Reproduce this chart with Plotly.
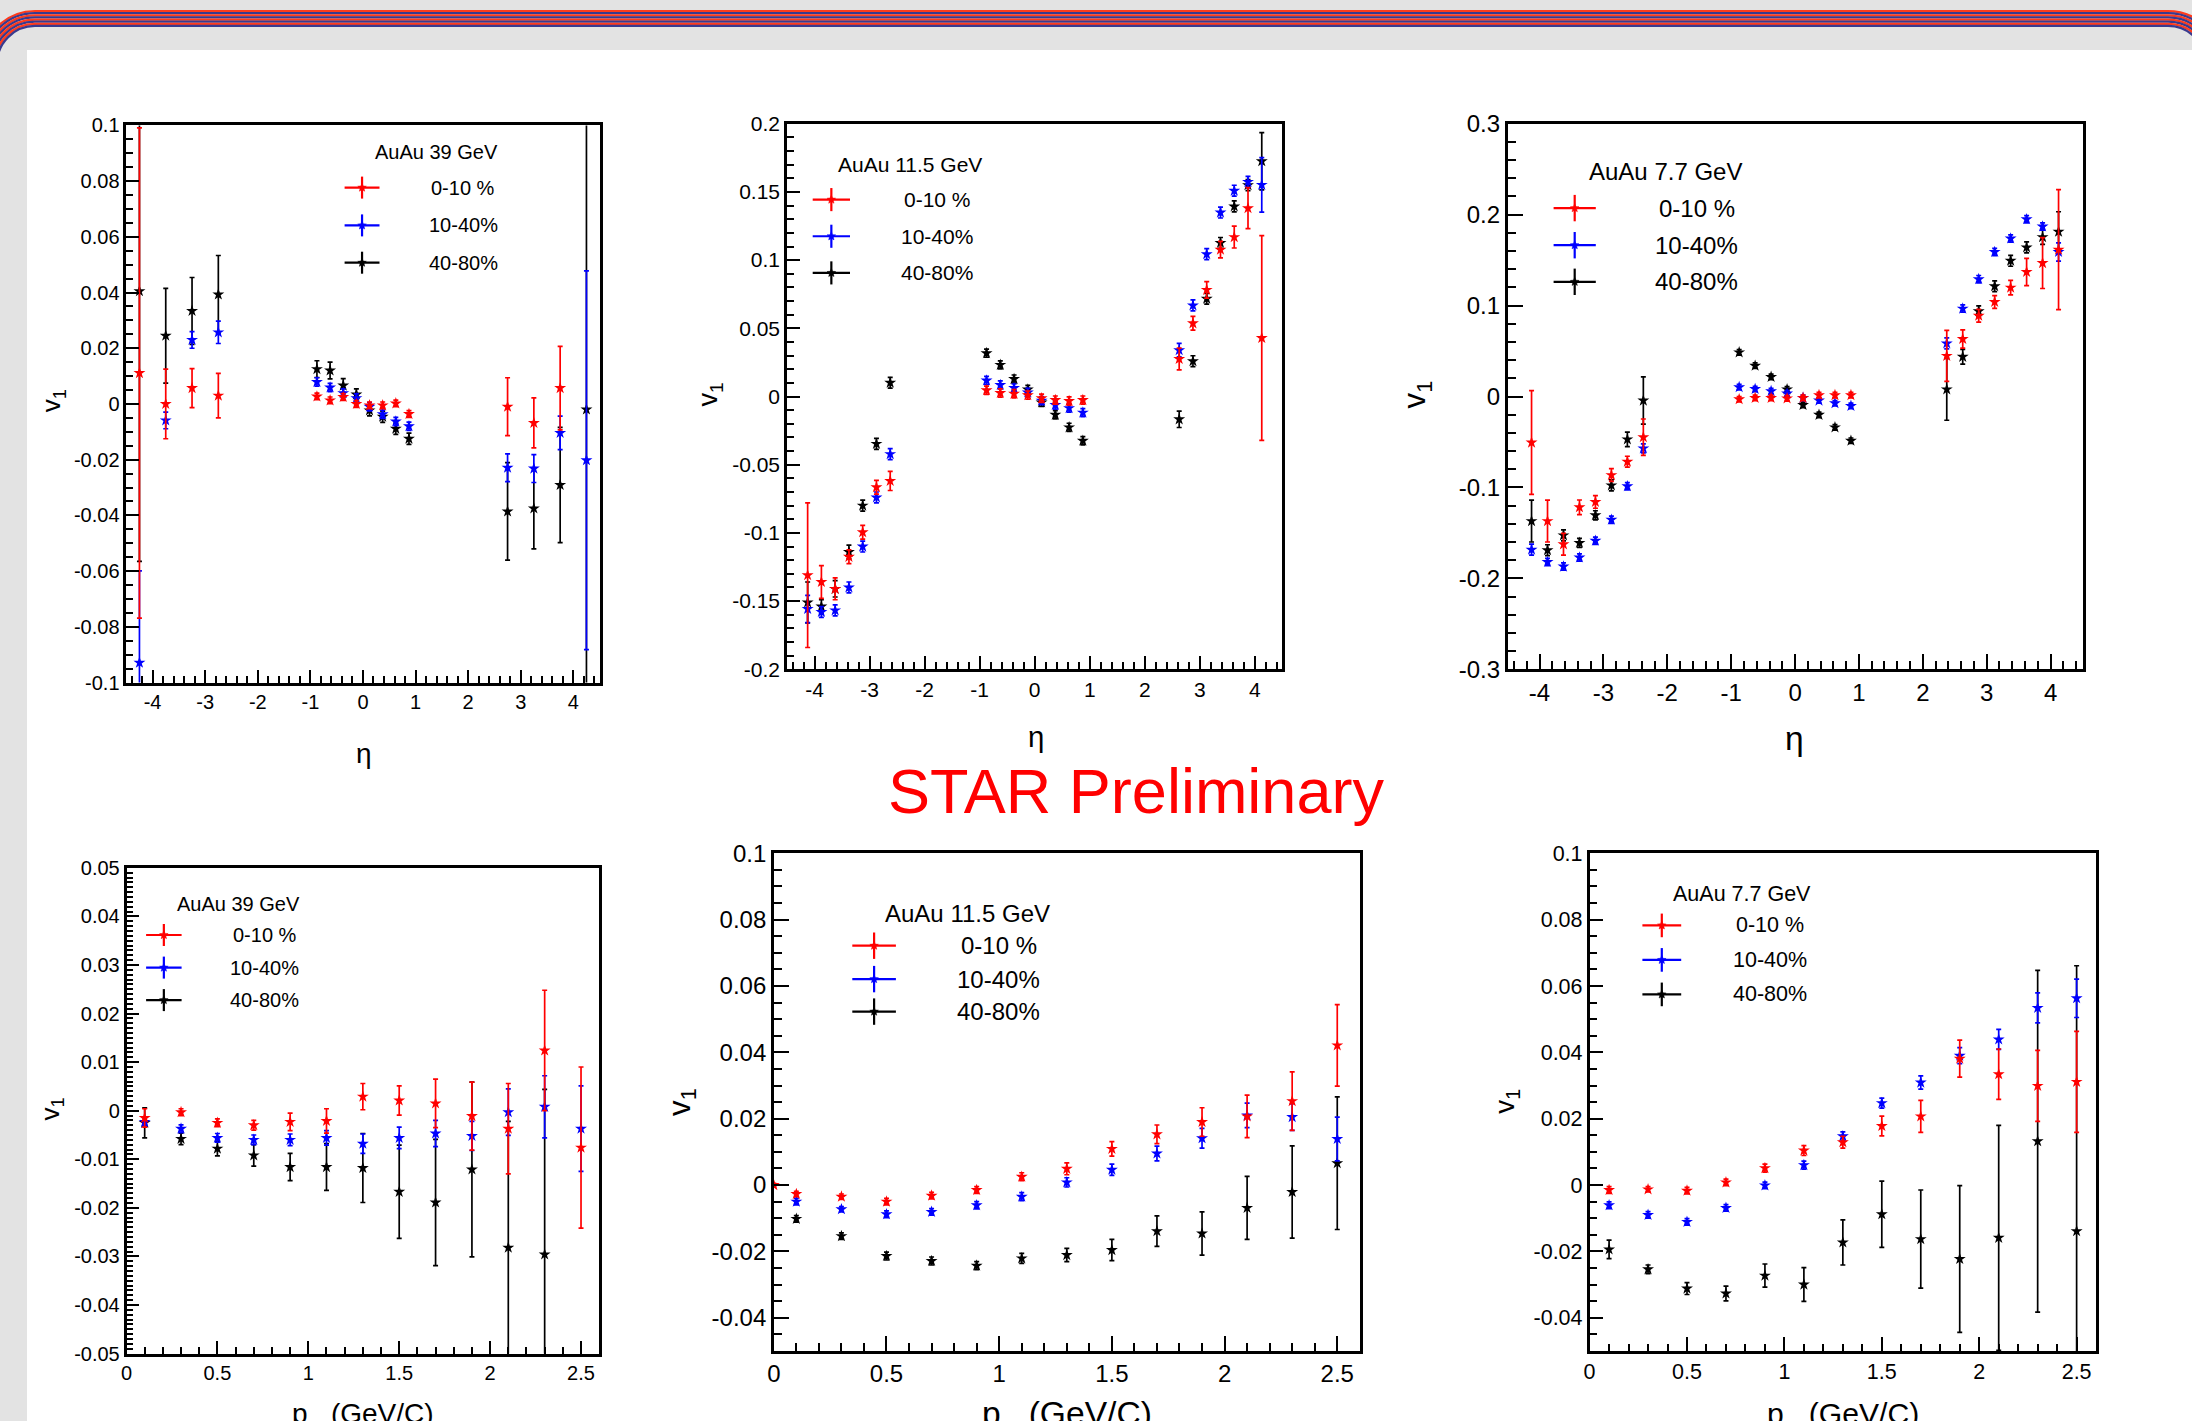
import plotly.graph_objects as go
import numpy as np

W, H = 2192, 1421

# ---------------- data ----------------
ETA_39 = [-4.25, -3.75, -3.25, -2.75, -0.875, -0.625, -0.375, -0.125,
          0.125, 0.375, 0.625, 0.875, 2.75, 3.25, 3.75, 4.25]
V1_39_C0 = [0.0111, 0.0000, 0.0057, 0.0030, 0.0027, 0.0013, 0.0025, 0.0000,
            -0.0005, -0.0005, 0.0002, -0.0036, -0.0010, -0.0068, 0.0057, None]
E_39_C0 = [0.088, 0.0125, 0.007, 0.008, 0.0012, 0.0012, 0.0012, 0.0012,
           0.0012, 0.0012, 0.0012, 0.0012, 0.0104, 0.009, 0.015, None]
V1_39_C1 = [-0.0929, -0.0059, 0.0230, 0.0257, 0.0079, 0.0059, 0.0039, 0.0021,
            -0.0010, -0.0037, -0.0063, -0.0080, -0.0229, -0.0232, -0.0104, -0.0202]
E_39_C1 = [0.033, 0.003, 0.003, 0.004, 0.0015, 0.0015, 0.0015, 0.0015,
           0.0015, 0.0015, 0.0015, 0.0015, 0.005, 0.005, 0.006, 0.068]
V1_39_C2 = [0.0405, 0.0245, 0.0334, 0.0393, 0.0125, 0.0120, 0.0066, 0.0034,
            -0.0023, -0.0046, -0.0089, -0.0125, -0.0386, -0.0375, -0.0291, -0.0020]
E_39_C2 = [0.097, 0.017, 0.012, 0.014, 0.003, 0.003, 0.0025, 0.002,
           0.002, 0.002, 0.002, 0.002, 0.0175, 0.0145, 0.0207, 0.15]

ETA_115 = [-4.125, -3.875, -3.625, -3.375, -3.125, -2.875, -2.625,
           -0.875, -0.625, -0.375, -0.125, 0.125, 0.375, 0.625, 0.875,
           2.625, 2.875, 3.125, 3.375, 3.625, 3.875, 4.125]
V1_115_C0 = [-0.131, -0.136, -0.141, -0.1175, -0.0995, -0.0665, -0.0619,
             0.0046, 0.0026, 0.0020, 0.0010, -0.0013, -0.0026, -0.0033, -0.0026,
             0.0275, 0.0537, 0.0782, 0.1077, 0.1169, 0.1381, 0.0429]
E_115_C0 = [0.053, 0.012, 0.008, 0.005, 0.005, 0.005, 0.007,
            0.003, 0.003, 0.003, 0.003, 0.003, 0.003, 0.003, 0.003,
            0.008, 0.005, 0.006, 0.006, 0.008, 0.015, 0.075]
V1_115_C1 = [-0.1558, -0.158, -0.1568, -0.140, -0.110, -0.074, -0.0422,
             0.0118, 0.0085, 0.0062, 0.0030, -0.0030, -0.0062, -0.0085, -0.0118,
             0.034, 0.0668, 0.1044, 0.1349, 0.1509, 0.1574, 0.1552]
E_115_C1 = [0.010, 0.004, 0.004, 0.004, 0.004, 0.004, 0.004,
            0.003, 0.003, 0.003, 0.003, 0.003, 0.003, 0.003, 0.003,
            0.005, 0.004, 0.004, 0.004, 0.004, 0.004, 0.020]
V1_115_C2 = [-0.151, -0.154, -0.141, -0.114, -0.080, -0.0347, 0.0101,
             0.0318, 0.0232, 0.0128, 0.0052, -0.0043, -0.0134, -0.0226, -0.0324,
             -0.0167, 0.0259, 0.0717, 0.1126, 0.1394, 0.155, 0.1725]
E_115_C2 = [0.015, 0.005, 0.006, 0.005, 0.004, 0.004, 0.004,
            0.003, 0.003, 0.003, 0.003, 0.003, 0.003, 0.003, 0.003,
            0.006, 0.004, 0.004, 0.004, 0.004, 0.004, 0.021]

ETA_77 = [-4.125, -3.875, -3.625, -3.375, -3.125, -2.875, -2.625, -2.375,
          -0.875, -0.625, -0.375, -0.125, 0.125, 0.375, 0.625, 0.875,
          2.375, 2.625, 2.875, 3.125, 3.375, 3.625, 3.875, 4.125]
V1_77_C0 = [-0.0506, -0.137, -0.1625, -0.1218, -0.1159, -0.0864, -0.0717, -0.0447,
            -0.003, -0.0015, -0.0015, -0.002, -0.0015, 0.0015, 0.0015, 0.0015,
            0.0447, 0.0633, 0.0889, 0.104, 0.1198, 0.137, 0.1468, 0.1615]
E_77_C0 = [0.057, 0.023, 0.012, 0.008, 0.007, 0.007, 0.006, 0.020,
           0.003, 0.003, 0.003, 0.003, 0.003, 0.003, 0.003, 0.003,
           0.028, 0.010, 0.007, 0.007, 0.008, 0.015, 0.028, 0.066]
V1_77_C1 = [-0.1684, -0.182, -0.187, -0.177, -0.1586, -0.1355, -0.0987, -0.057,
            0.0103, 0.0083, 0.0059, 0.0034, -0.0015, -0.0044, -0.0074, -0.0103,
            0.0584, 0.0967, 0.1291, 0.159, 0.1738, 0.195, 0.187, 0.159]
E_77_C1 = [0.006, 0.004, 0.004, 0.004, 0.004, 0.004, 0.004, 0.005,
           0.003, 0.003, 0.003, 0.003, 0.003, 0.003, 0.003, 0.003,
           0.006, 0.004, 0.004, 0.004, 0.004, 0.004, 0.004, 0.010]
V1_77_C2 = [-0.137, -0.169, -0.1527, -0.161, -0.1306, -0.0977, -0.0471, -0.0044,
            0.0486, 0.0339, 0.0216, 0.0079, -0.0093, -0.0201, -0.0339, -0.0486,
            0.0079, 0.0437, 0.0938, 0.1213, 0.1493, 0.164, 0.1753, 0.1812]
E_77_C2 = [0.023, 0.006, 0.006, 0.005, 0.005, 0.006, 0.008, 0.026,
           0.003, 0.003, 0.003, 0.003, 0.003, 0.003, 0.003, 0.003,
           0.034, 0.008, 0.006, 0.006, 0.006, 0.006, 0.008, 0.022]

PT = [0.1, 0.3, 0.5, 0.7, 0.9, 1.1, 1.3, 1.5, 1.7, 1.9, 2.1, 2.3, 2.5]
PT_115_C0 = [0.0, 0.1, 0.3, 0.5, 0.7, 0.9, 1.1, 1.3, 1.5, 1.7, 1.9, 2.1, 2.3, 2.5]

P_39_C0 = [-0.0015, -0.0003, -0.0025, -0.0030, -0.0023, -0.0021, 0.0029,
           0.0021, 0.0015, -0.0011, -0.0037, 0.0124, -0.0076]
PE_39_C0 = [0.0019, 0.0007, 0.0008, 0.001, 0.0018, 0.0025, 0.0027,
            0.003, 0.005, 0.007, 0.0093, 0.0124, 0.0166]
P_39_C1 = [-0.0023, -0.0037, -0.0056, -0.0060, -0.0060, -0.0056, -0.0068,
           -0.0056, -0.0047, -0.0052, -0.0003, 0.0008, -0.0037]
PE_39_C1 = [0.0008, 0.0008, 0.0009, 0.001, 0.0012, 0.0015, 0.002,
            0.0022, 0.0027, 0.003, 0.0048, 0.0064, 0.0088]
P_39_C2 = [-0.0025, -0.0058, -0.0078, -0.0092, -0.0116, -0.0116, -0.0118,
           -0.0167, -0.0189, -0.0121, -0.0282, -0.0296, None]
PE_39_C2 = [0.0031, 0.0012, 0.0015, 0.0022, 0.0028, 0.0048, 0.0071,
            0.0096, 0.013, 0.018, 0.026, 0.034, None]

P_115_C0 = [0.0, -0.0027, -0.0035, -0.0050, -0.0032, -0.0015, 0.0025, 0.0049,
            0.0109, 0.0153, 0.0190, 0.0207, 0.0253, 0.0421]
PE_115_C0 = [0.0005, 0.0008, 0.0008, 0.001, 0.001, 0.001, 0.0012, 0.0018,
             0.0022, 0.0028, 0.0043, 0.0064, 0.0088, 0.0123]
P_115_C1 = [-0.0050, -0.0073, -0.0088, -0.0081, -0.0061, -0.0035, 0.0008,
            0.0046, 0.0095, 0.0141, 0.0210, 0.0205, 0.0139]
PE_115_C1 = [0.001, 0.0008, 0.001, 0.001, 0.0011, 0.0012, 0.0014,
             0.0017, 0.0022, 0.003, 0.0037, 0.004, 0.0066]
P_115_C2 = [-0.0102, -0.0154, -0.0214, -0.0229, -0.0243, -0.0221, -0.0211,
            -0.0196, -0.0139, -0.0146, -0.0069, -0.0021, 0.0066]
PE_115_C2 = [0.001, 0.001, 0.0012, 0.0012, 0.0012, 0.0015, 0.002,
             0.0032, 0.0046, 0.0065, 0.0095, 0.0139, 0.020]

P_77_C0 = [-0.0015, -0.0013, -0.0017, 0.0008, 0.0051, 0.0104, 0.0129,
           0.0178, 0.0207, 0.0381, 0.0334, 0.0299, 0.0311]
PE_77_C0 = [0.001, 0.0008, 0.001, 0.001, 0.0012, 0.0015, 0.0018,
            0.003, 0.0048, 0.0056, 0.0076, 0.0107, 0.0152]
P_77_C1 = [-0.0061, -0.0090, -0.0111, -0.0069, -0.0001, 0.0060, 0.0147,
           0.0247, 0.0309, 0.0390, 0.0439, 0.0534, 0.0563]
PE_77_C1 = [0.001, 0.001, 0.001, 0.001, 0.001, 0.0012, 0.0013,
            0.0015, 0.002, 0.0024, 0.003, 0.0045, 0.0058]
P_77_C2 = [-0.0194, -0.0254, -0.0312, -0.0327, -0.0273, -0.0300, -0.0173,
           -0.0088, -0.0163, -0.0223, -0.0159, 0.0132, -0.0139]
PE_77_C2 = [0.0028, 0.0013, 0.0018, 0.0022, 0.0035, 0.0051, 0.0068,
            0.010, 0.0148, 0.0221, 0.0339, 0.0515, 0.080]

CENT_LABELS = ["0-10 %", "10-40%", "40-80%"]
COLORS = ["#ff0000", "#0000ff", "#000000"]
HEADERS = ["AuAu 39 GeV", "AuAu 11.5 GeV", "AuAu 7.7 GeV",
           "AuAu 39 GeV", "AuAu 11.5 GeV", "AuAu 7.7 GeV"]

FONT = "Liberation Sans, Arial, Helvetica, sans-serif"

# ---------------- layout geometry (pixels) ----------------
PANELS = [
    dict(box=(126.3, 599.6, 125.4, 682.5), xr=(-4.5, 4.5), yr=(-0.1, 0.1),
         xmaj=1, xmin=0.2, ymaj=0.02, ymin=0.005, fs=20, title="η",
         leg=dict(head=(436.6, 151.7), line=(344.6, 379.5), rows=(187.6, 225.4, 262.7), lab=463),
         vt=(52.7, 400.5), xt=(363.8, 753.0)),
    dict(box=(787.0, 1282.4, 123.75, 669.3), xr=(-4.5, 4.5), yr=(-0.2, 0.2),
         xmaj=1, xmin=0.2, ymaj=0.05, ymin=0.01, fs=21, title="η",
         leg=dict(head=(910.1, 164.8), line=(812.7, 850.0), rows=(199.6, 236.25, 272.9), lab=937),
         vt=(709.9, 394.7), xt=(1035.7, 736.0)),
    dict(box=(1507.6, 2082.5, 123.75, 669.3), xr=(-4.5, 4.5), yr=(-0.3, 0.3),
         xmaj=1, xmin=0.2, ymaj=0.1, ymin=0.02, fs=24, title="η",
         leg=dict(head=(1665.1, 171.5), line=(1553.6, 1595.8), rows=(208.1, 245.2, 281.8), lab=1696.8),
         vt=(1416.7, 394.7), xt=(1794.6, 738.5)),
    dict(box=(126.5, 599.2, 867.9, 1353.5), xr=(0, 2.6), yr=(-0.05, 0.05),
         xmaj=0.5, xmin=0.1, ymaj=0.01, ymin=0.001, fs=20, title="p_ (GeV/C)",
         leg=dict(head=(238.8, 903.6), line=(146.1, 181.6), rows=(935.0, 967.6, 1000.1), lab=264.5),
         vt=(51.0, 1109.4), xt=(363.3, 1413.0)),
    dict(box=(773.8, 1359.8, 853.3, 1350.9), xr=(0, 2.6), yr=(-0.05, 0.1),
         xmaj=0.5, xmin=0.1, ymaj=0.02, ymin=0.005, fs=24, title="p_ (GeV/C)",
         leg=dict(head=(967.2, 913.1), line=(852.3, 895.9), rows=(945.7, 979.1, 1011.6), lab=998.7),
         vt=(681.2, 1101.7), xt=(1066.6, 1413.0)),
    dict(box=(1589.6, 2096.1, 853.3, 1350.9), xr=(0, 2.6), yr=(-0.05, 0.1),
         xmaj=0.5, xmin=0.1, ymaj=0.02, ymin=0.005, fs=21.5, title="p_ (GeV/C)",
         leg=dict(head=(1742.2, 893.6), line=(1642.4, 1681.2), rows=(925.4, 959.9, 994.4), lab=1770),
         vt=(1507.1, 1101.7), xt=(1842.9, 1413.0)),
]

SERIES = [
    [(ETA_39, V1_39_C0, E_39_C0), (ETA_39, V1_39_C1, E_39_C1), (ETA_39, V1_39_C2, E_39_C2)],
    [(ETA_115, V1_115_C0, E_115_C0), (ETA_115, V1_115_C1, E_115_C1), (ETA_115, V1_115_C2, E_115_C2)],
    [(ETA_77, V1_77_C0, E_77_C0), (ETA_77, V1_77_C1, E_77_C1), (ETA_77, V1_77_C2, E_77_C2)],
    [(PT, P_39_C0, PE_39_C0), (PT, P_39_C1, PE_39_C1), (PT, P_39_C2, PE_39_C2)],
    [(PT_115_C0, P_115_C0, PE_115_C0), (PT, P_115_C1, PE_115_C1), (PT, P_115_C2, PE_115_C2)],
    [(PT, P_77_C0, PE_77_C0), (PT, P_77_C1, PE_77_C1), (PT, P_77_C2, PE_77_C2)],
]


def px(x):
    return x / W


def py(y):
    return 1 - y / H


def ticks(lo, hi, step):
    n0 = int(np.ceil(lo / step - 1e-6))
    n1 = int(np.floor(hi / step + 1e-6))
    return [round(k * step, 6) for k in range(n0, n1 + 1)]


def fmt(v):
    s = f"{v:g}"
    return "0" if s in ("-0", "0") else s


fig = go.Figure()
shapes = []
annos = []

# background: gray page with white sheet
shapes.append(dict(type="rect", xref="paper", yref="paper", layer="below",
                   x0=px(27), x1=px(W + 20), y0=py(50), y1=py(H + 20),
                   fillcolor="white", line=dict(width=0)))

# decorative striped banner at top
k = 0.5523
cxl, cxr, cyc = 35.0, 2168.0, 64.0
for i in range(8):
    yy = 10 + 1.06 + 2.125 * i
    r = cyc - yy
    pts = [
        ("M", [(cxl - r, cyc)]),
        ("C", [(cxl - r, cyc - k * r), (cxl - k * r, cyc - r), (cxl, cyc - r)]),
        ("L", [(cxr, cyc - r)]),
        ("C", [(cxr + k * r, cyc - r), (cxr + r, cyc - k * r), (cxr + r, cyc)]),
    ]
    path = ""
    for cmd, ps in pts:
        path += cmd + " " + " ".join(f"{px(a):.6f},{py(b):.6f}" for a, b in ps) + " "
    shapes.append(dict(type="path", xref="paper", yref="paper", path=path.strip(),
                       line=dict(color="#ff3b1c" if i % 2 == 0 else "#3a3a8e", width=2.3)))


def star_path(cx, cy, ro, ri):
    p = ""
    for j in range(10):
        ang = -np.pi / 2 + j * np.pi / 5
        rr = ro if j % 2 == 0 else ri
        x = cx + rr * np.cos(ang)
        y = cy + rr * np.sin(ang)
        p += ("M " if j == 0 else "L ") + f"{px(x):.6f},{py(y):.6f} "
    return p + "Z"


for i, P in enumerate(PANELS, start=1):
    x0, x1, y0, y1 = P["box"]
    fs = P["fs"]
    xt_vals = ticks(P["xr"][0], P["xr"][1], P["xmaj"])
    yt_vals = ticks(P["yr"][0], P["yr"][1], P["ymaj"])
    xa = dict(domain=[px(x0), px(x1)], anchor=f"y{i}", automargin=False,
              range=[P["xr"][0], P["xr"][1]],
              tickmode="array", tickvals=xt_vals, ticktext=[fmt(v) for v in xt_vals],
              ticks="inside", ticklen=0.65 * fs, tickwidth=2, tickcolor="black",
              minor=dict(tickmode="array",
                         tickvals=ticks(P["xr"][0], P["xr"][1], P["xmin"]),
                         ticks="inside", ticklen=0.35 * fs, tickwidth=1.6,
                         tickcolor="black", showgrid=False),
              showline=True, linecolor="black", linewidth=2.5, mirror=True,
              showgrid=False, zeroline=False,
              tickfont=dict(family=FONT, size=fs, color="black"))
    eps = (P["yr"][1] - P["yr"][0]) * 1e-6
    ya = dict(domain=[py(y1), py(y0)], anchor=f"x{i}", automargin=False,
              range=[P["yr"][0] - eps, P["yr"][1] + eps],
              tickmode="array", tickvals=yt_vals, ticktext=[fmt(v) for v in yt_vals],
              ticks="inside", ticklen=0.65 * fs, tickwidth=2, tickcolor="black",
              minor=dict(tickmode="array",
                         tickvals=ticks(P["yr"][0], P["yr"][1], P["ymin"]),
                         ticks="inside", ticklen=0.35 * fs, tickwidth=1.6,
                         tickcolor="black", showgrid=False),
              showline=True, linecolor="black", linewidth=2.5, mirror=True,
              showgrid=False, zeroline=False,
              tickfont=dict(family=FONT, size=fs, color="black"))
    fig.update_layout(**{f"xaxis{i}": xa, f"yaxis{i}": ya})

    for c in (2, 1, 0):
        xs, ys, es = SERIES[i - 1][c]
        fig.add_trace(go.Scatter(
            x=xs, y=ys, xaxis=f"x{i}", yaxis=f"y{i}", mode="markers",
            name=CENT_LABELS[c], showlegend=False,
            marker=dict(symbol="star", size=9, color=COLORS[c], line=dict(width=0)),
            error_y=dict(type="data", array=es, visible=True, color=COLORS[c],
                         thickness=1.7, width=2.5)))

    L = P["leg"]
    annos.append(dict(xref="paper", yref="paper", x=px(L["head"][0]), y=py(L["head"][1]),
                      text=HEADERS[i - 1], showarrow=False, xanchor="center", yanchor="middle",
                      font=dict(family=FONT, size=fs, color="black")))
    lx0, lx1 = L["line"]
    lxc = (lx0 + lx1) / 2
    for c, ry in enumerate(L["rows"]):
        shapes.append(dict(type="line", xref="paper", yref="paper",
                           x0=px(lx0), x1=px(lx1), y0=py(ry), y1=py(ry),
                           line=dict(color=COLORS[c], width=2.2)))
        vh = 0.55 * fs
        shapes.append(dict(type="line", xref="paper", yref="paper",
                           x0=px(lxc), x1=px(lxc), y0=py(ry - vh), y1=py(ry + vh),
                           line=dict(color=COLORS[c], width=2.2)))
        shapes.append(dict(type="path", xref="paper", yref="paper",
                           path=star_path(lxc, ry, 4.5, 2.0),
                           fillcolor=COLORS[c], line=dict(color=COLORS[c], width=0.5)))
        annos.append(dict(xref="paper", yref="paper", x=px(L["lab"]), y=py(ry),
                          text=CENT_LABELS[c], showarrow=False, xanchor="center",
                          yanchor="middle", font=dict(family=FONT, size=fs, color="black")))

    annos.append(dict(xref="paper", yref="paper", x=px(P["vt"][0]), y=py(P["vt"][1]),
                      text="v<sub>1</sub>", textangle=-90, showarrow=False,
                      xanchor="center", yanchor="middle",
                      font=dict(family=FONT, size=fs * 1.3, color="black")))
    annos.append(dict(xref="paper", yref="paper", x=px(P["xt"][0]), y=py(P["xt"][1]),
                      text=P["title"], showarrow=False, xanchor="center", yanchor="middle",
                      font=dict(family=FONT, size=fs * 1.4, color="black")))

annos.append(dict(xref="paper", yref="paper", x=px(1135.5), y=py(791), text="STAR Preliminary",
                  showarrow=False, xanchor="center", yanchor="middle",
                  font=dict(family=FONT, size=63, color="#ff0000")))

fig.update_layout(template="none", width=W, height=H, autosize=False,
                  margin=dict(l=0, r=0, t=0, b=0, pad=0, autoexpand=False),
                  paper_bgcolor="#e3e3e3", plot_bgcolor="white",
                  shapes=shapes, annotations=annos, showlegend=False)

fig.write_html("out.html",
               config={"displayModeBar": False},
               post_script="document.body.style.margin='0';"
                           "document.body.style.padding='0';"
                           "document.body.style.overflow='hidden';"
                           "document.documentElement.style.overflow='hidden';")
